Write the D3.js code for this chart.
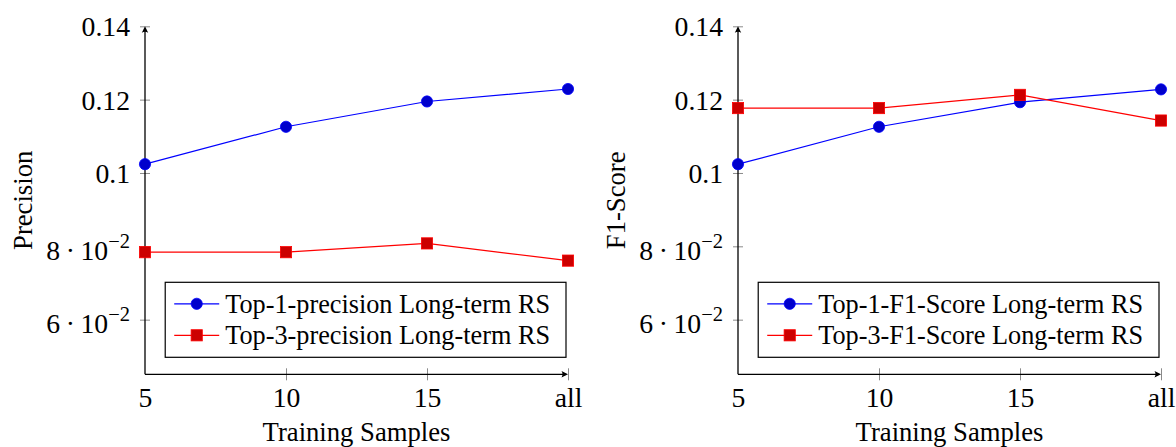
<!DOCTYPE html>
<html>
<head>
<meta charset="utf-8">
<script src="https://cdn.jsdelivr.net/npm/d3@7"></script>
<style>
  body { margin: 0; background: #fff; }
  svg { display: block; }
  text { font-family: "Liberation Serif", serif; fill: #000; }
</style>
</head>
<body>
<svg id="chart" width="1176" height="447"></svg>
<script>
// x categories and y ticks
const xLabels = ["5", "10", "15", "all"];
const yTicks = [0.06, 0.08, 0.1, 0.12, 0.14];

// series
const top1Precision = [0.1024, 0.1126, 0.1195, 0.1229];
const top3Precision = [0.0784, 0.0784, 0.0808, 0.0761];
const top1F1 = [0.1024, 0.1126, 0.1193, 0.1228];
const top3F1 = [0.1177, 0.1177, 0.1213, 0.1143];

const panels = [
  { left: 145, right: 568, ylabel: "Precision",
    series: [
      { name: "Top-1-precision Long-term RS", values: top1Precision, kind: "circle" },
      { name: "Top-3-precision Long-term RS", values: top3Precision, kind: "square" }
    ] },
  { left: 738, right: 1161, ylabel: "F1-Score",
    series: [
      { name: "Top-1-F1-Score Long-term RS", values: top1F1, kind: "circle" },
      { name: "Top-3-F1-Score Long-term RS", values: top3F1, kind: "square" }
    ] }
];

const colors = {
  circle: { line: "#0000ff", fill: "#0000cc" },
  square: { line: "#ff0000", fill: "#cc0000" }
};

const svg = d3.select("#chart");
const yTop = 26.3, yBottom = 374.3;

// fit font sizes to the widths measured on the picture
function fit(str, target) {
  const t = svg.append("text").attr("font-size", 20).text(str);
  const w = t.node().getComputedTextLength();
  t.remove();
  return 20 * target / w;
}
const fs = fit("Training Samples", 188);
const tickFs = fit("10", 27.7);
const legendFs = fit("Top-1-precision Long-term RS", 325);

const y = d3.scaleLinear().domain([0.0451, 0.14]).range([yBottom, yTop]);

function arrowHead(g, x, yy, dir) {
  const p = dir === "up"
    ? `M${x},${yy} L${x - 3.2},${yy + 6.5} Q${x},${yy + 4.5} ${x + 3.2},${yy + 6.5} Z`
    : `M${x},${yy} L${x - 6.5},${yy - 3.2} Q${x - 4.5},${yy} ${x - 6.5},${yy + 3.2} Z`;
  g.append("path").attr("d", p).attr("fill", "#000");
}

panels.forEach(p => {
  const g = svg.append("g");
  const x = d3.scalePoint().domain(xLabels).range([p.left, p.right]);

  // y axis ticks + labels
  const ya = g.append("g")
    .attr("transform", `translate(${p.left},0)`)
    .call(d3.axisLeft(y).tickValues(yTicks).tickSize(5).tickPadding(10).tickFormat(""));
  ya.select(".domain").remove();
  ya.selectAll(".tick line").attr("stroke", "#8a8a8a").attr("stroke-width", 1);
  ya.selectAll(".tick").append("line").attr("x2", 5).attr("stroke", "#8a8a8a").attr("stroke-width", 1);
  ya.selectAll(".tick text").each(function(d) {
    const t = d3.select(this).attr("font-size", tickFs).attr("font-family", null).attr("fill", "#000");
    if (d >= 0.1 - 1e-9) {
      t.attr("dy", "0.34em").text(String(+d.toFixed(2)));
    } else {
      const m = Math.round(d * 100);
      t.attr("dy", "0.46em");
      t.append("tspan").text(m + "\u2009\u00b7\u200910");
      t.append("tspan").attr("font-size", tickFs * 0.74).attr("dy", -tickFs * 0.42).text("\u22122");
    }
  });

  // x axis ticks + labels
  const xa = g.append("g")
    .attr("transform", `translate(0,${yBottom})`)
    .call(d3.axisBottom(x).tickSize(6).tickSizeOuter(0));
  xa.select(".domain").remove();
  xa.selectAll(".tick line").attr("y1", -6).attr("y2", 6).attr("stroke", "#8a8a8a").attr("stroke-width", 1);
  xa.selectAll(".tick").filter(d => d === xLabels[0]).select("line").remove();
  xa.selectAll(".tick text").attr("font-size", tickFs).attr("font-family", null)
    .attr("fill", "#000").attr("dy", null).attr("y", 33);

  // axis lines with arrows
  g.append("line").attr("x1", p.left).attr("x2", p.left).attr("y1", yBottom).attr("y2", yTop + 2)
    .attr("stroke", "#000").attr("stroke-width", 1.3);
  arrowHead(g, p.left, yTop, "up");
  g.append("line").attr("x1", p.left).attr("x2", p.right - 2).attr("y1", yBottom).attr("y2", yBottom)
    .attr("stroke", "#000").attr("stroke-width", 1.3);
  arrowHead(g, p.right, yBottom, "right");

  // axis titles
  g.append("text").attr("font-size", fs).attr("text-anchor", "middle")
    .attr("x", (p.left + p.right) / 2).attr("y", 441).text("Training Samples");
  g.append("text").attr("font-size", fs).attr("text-anchor", "middle")
    .attr("transform", `translate(${p.left - 113},${(yTop + yBottom) / 2}) rotate(-90)`)
    .text(p.ylabel);

  // series
  const line = d3.line().x((d, i) => x(xLabels[i])).y(d => y(d));
  p.series.forEach(s => {
    const c = colors[s.kind];
    g.append("path").attr("d", line(s.values)).attr("fill", "none")
      .attr("stroke", c.line).attr("stroke-width", 1.2);
    drawMarks(g, s.kind, s.values.map((v, i) => [x(xLabels[i]), y(v)]));
  });

  // legend
  const lg = g.append("g");
  const texts = p.series.map(s => lg.append("text").attr("font-size", legendFs).text(s.name));
  const tw = d3.max(texts, t => t.node().getComputedTextLength());
  const bw = 60 + tw + 16, bh = 75;
  const bx = p.right - 2 - bw, by = yBottom - 17 - bh;
  lg.insert("rect", "text").attr("x", bx).attr("y", by).attr("width", bw).attr("height", bh)
    .attr("fill", "#fff").attr("stroke", "#000").attr("stroke-width", 1.2);
  p.series.forEach((s, i) => {
    const cy = by + 21.5 + i * 31.5;
    const c = colors[s.kind];
    lg.append("line").attr("x1", bx + 9).attr("x2", bx + 54).attr("y1", cy).attr("y2", cy)
      .attr("stroke", c.line).attr("stroke-width", 1.2);
    drawMarks(lg, s.kind, [[bx + 31.5, cy]]);
    texts[i].attr("x", bx + 60).attr("y", cy).attr("dy", "0.34em");
  });
});

function drawMarks(g, kind, pts) {
  const c = colors[kind];
  if (kind === "circle") {
    g.selectAll(null).data(pts).join("circle")
      .attr("cx", d => d[0]).attr("cy", d => d[1]).attr("r", 5.6)
      .attr("fill", c.fill).attr("stroke", c.line).attr("stroke-width", 0.8);
  } else {
    g.selectAll(null).data(pts).join("rect")
      .attr("x", d => d[0] - 5.6).attr("y", d => d[1] - 5.6).attr("width", 11.2).attr("height", 11.2)
      .attr("fill", c.fill).attr("stroke", c.line).attr("stroke-width", 0.8);
  }
}
</script>
</body>
</html>
